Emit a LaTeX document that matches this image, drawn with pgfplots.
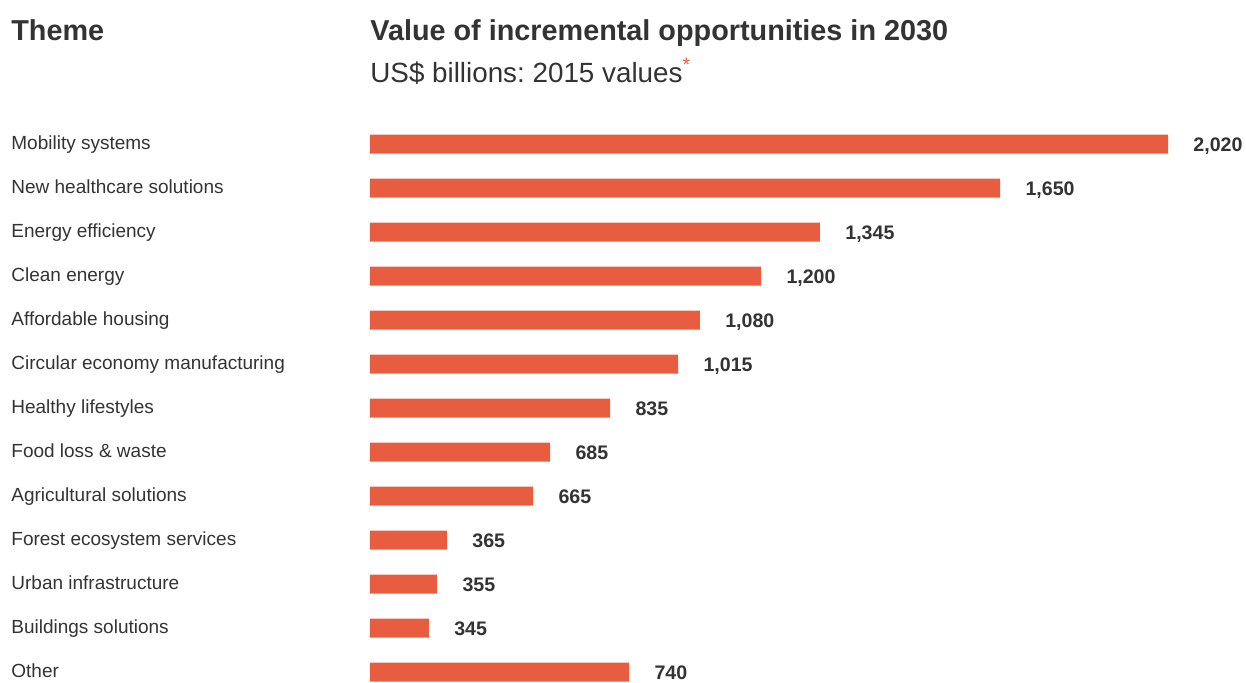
\documentclass[border=0pt]{standalone}
\usepackage{fontspec}
\setmainfont{Liberation Sans}
\usepackage{pgfplots}
\usepackage{pgfplotstable}
\pgfplotsset{compat=1.18}
\frenchspacing

\definecolor{barcol}{HTML}{E85D40}
\definecolor{txt}{HTML}{333333}

% drawn = bar length as drawn in the source chart, val = printed value
\pgfplotstableread{
idx drawn val
0  2020 2020
1  1595 1650
2  1139 1345
3  990  1200
4  835  1080
5  780  1015
6  608  835
7  456  685
8  413  665
9  195  365
10 170  355
11 149  345
12 656  740
}\themes

\begin{document}
\begin{tikzpicture}
    \useasboundingbox (-185pt,-341pt) rectangle (438pt,0pt);

    % headings
    \node[anchor=base west, inner sep=0pt, text=txt,
          font=\fontsize{14.4}{17}\selectfont\bfseries] at (-179.5pt,-20pt) {Theme};
    \node[anchor=base west, inner sep=0pt, text=txt,
          font=\fontsize{14.4}{17}\selectfont\bfseries] at (0pt,-20pt)
          {Value of incremental opportunities in 2030};
    \node[anchor=base west, inner sep=0pt, text=txt,
          font=\fontsize{13.9}{16}\selectfont] at (0pt,-41pt)
          {US\$ billions: 2015 values\textsuperscript{\textcolor{barcol}{*}}};

    \begin{axis}[
        at={(0pt,0pt)}, anchor=north west,
        scale only axis,
        width=399pt, height=341pt,
        xbar, bar width=9.5pt,
        xmin=0, xmax=2020,
        ymin=-3.273, ymax=12.227,
        y dir=reverse,
        clip=false,
        axis line style={draw=none},
        tick style={draw=none},
        major tick length=0pt,
        xtick=\empty,
        ytick={0,...,12},
        yticklabels={Mobility systems, New healthcare solutions, Energy efficiency,
            Clean energy, Affordable housing, Circular economy manufacturing,
            Healthy lifestyles, Food loss \& waste, Agricultural solutions,
            Forest ecosystem services, Urban infrastructure, Buildings solutions, Other},
        yticklabel style={anchor=west, inner sep=0pt, xshift=-179.5pt,
            text height=7pt, text depth=2pt, text=txt,
            font=\fontsize{9.5}{11}\selectfont},
        point meta=explicit,
        nodes near coords={\pgfmathprintnumber[fixed, precision=0,
            1000 sep={,}, assume math mode=true]{\pgfplotspointmeta}},
        every node near coord/.append style={anchor=west, inner sep=0pt,
            xshift=12.5pt, text height=7pt, text depth=0pt, text=txt,
            font=\fontsize{9.8}{11}\selectfont\bfseries},
    ]
        \addplot[fill=barcol, draw=none] table[x=drawn, y=idx, meta=val] {\themes};
    \end{axis}
\end{tikzpicture}
\end{document}
